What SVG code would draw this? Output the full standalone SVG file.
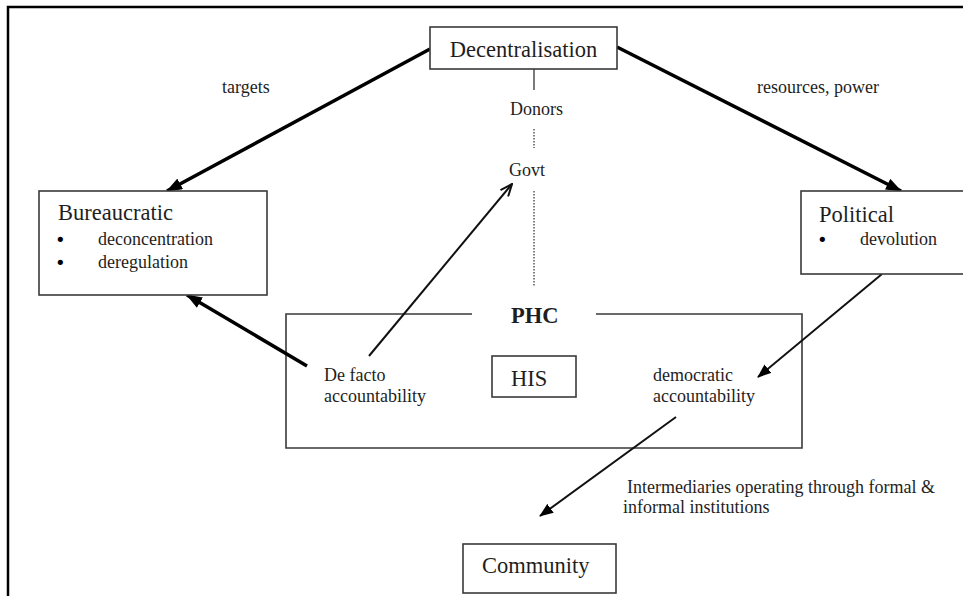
<svg xmlns="http://www.w3.org/2000/svg" width="963" height="596" viewBox="0 0 963 596">
  <style>
    .box { fill: #ffffff; stroke: #3a3a3a; stroke-width: 1.6; }
    .lbl { font-family: "Liberation Serif", "Times New Roman", serif; fill: #1e1e1e; }
    .big { font-size: 22.5px; }
    .sm { font-size: 18px; }
    .bul { font-family: "DejaVu Sans", sans-serif; font-size: 18px; fill: #000; }
    .thick { stroke: #000; stroke-width: 3.5; fill: none; }
    .thin { stroke: #111; stroke-width: 2; fill: none; }
    .dot { stroke: #555; stroke-width: 1.5; stroke-dasharray: 1.5 1.5; fill: none; }
  </style>
  <defs>
    <marker id="headBig" markerUnits="userSpaceOnUse" viewBox="0 0 16 12" markerWidth="16" markerHeight="12" refX="15" refY="6" orient="auto">
      <path d="M0,0 L16,6 L0,12 Z" fill="#000"/>
    </marker>
    <marker id="headSmall" markerUnits="userSpaceOnUse" viewBox="0 0 14 11" markerWidth="14" markerHeight="11" refX="13" refY="5.5" orient="auto">
      <path d="M0,0 L14,5.5 L0,11 Z" fill="#000"/>
    </marker>
    <marker id="headOpen" markerUnits="userSpaceOnUse" viewBox="0 0 14 12" markerWidth="14" markerHeight="12" refX="13" refY="6" orient="auto">
      <path d="M1,1 L13,6 L1,11" fill="none" stroke="#111" stroke-width="2"/>
    </marker>
  </defs>

  <rect width="963" height="596" fill="#ffffff"/>

  <!-- outer frame (left and top edges) -->
  <path d="M8,596 L8,7 L963,7" fill="none" stroke="#000" stroke-width="2.5"/>

  <!-- PHC container with gap for its title -->
  <g id="phc">
    <path class="box" d="M472,314 L286,314 L286,448 L802,448 L802,314 L596,314" fill="none"/>
    <text class="lbl big" x="511" y="323" font-weight="bold">PHC</text>
  </g>

  <g id="connectors">
    <!-- Decentralisation to the two branches -->
    <line class="thick" x1="430" y1="49" x2="167" y2="191" marker-end="url(#headBig)"/>
    <line class="thick" x1="617" y1="47" x2="901" y2="191" marker-end="url(#headBig)"/>
    <!-- De facto accountability to Bureaucratic -->
    <line class="thick" x1="307" y1="366" x2="187" y2="295" marker-end="url(#headBig)"/>
    <!-- De facto accountability to Govt -->
    <line class="thin" x1="369" y1="356" x2="512" y2="184" marker-end="url(#headOpen)"/>
    <!-- Political to democratic accountability -->
    <line class="thin" x1="882" y1="274" x2="758" y2="377" marker-end="url(#headSmall)"/>
    <!-- democratic accountability to Community -->
    <line class="thin" x1="676" y1="417" x2="540" y2="516" marker-end="url(#headSmall)"/>
    <!-- Decentralisation / Donors / Govt / PHC spine -->
    <line x1="534" y1="69" x2="534" y2="90" stroke="#333" stroke-width="1.3"/>
    <line class="dot" x1="534" y1="129" x2="534" y2="148"/>
    <line class="dot" x1="534" y1="191" x2="534" y2="286"/>
  </g>

  <g id="decentralisation">
    <rect class="box" x="430" y="27" width="187" height="42"/>
    <text class="lbl big" x="523.5" y="57" text-anchor="middle">Decentralisation</text>
  </g>

  <g id="donors">
    <text class="lbl sm" x="510" y="115">Donors</text>
  </g>

  <g id="govt">
    <text class="lbl sm" x="509" y="176">Govt</text>
  </g>

  <g id="bureaucratic">
    <rect class="box" x="39" y="191" width="228" height="104"/>
    <text class="lbl big" x="58" y="220">Bureaucratic</text>
    <text class="bul" x="55" y="246">•</text>
    <text class="lbl sm" x="98" y="245">deconcentration</text>
    <text class="bul" x="55" y="269">•</text>
    <text class="lbl sm" x="98" y="268">deregulation</text>
  </g>

  <g id="political">
    <rect class="box" x="801" y="191" width="170" height="83"/>
    <text class="lbl big" x="819" y="222">Political</text>
    <text class="bul" x="817" y="246">•</text>
    <text class="lbl sm" x="860" y="245">devolution</text>
  </g>

  <g id="his">
    <rect class="box" x="492" y="356" width="84" height="41"/>
    <text class="lbl big" x="511" y="386">HIS</text>
  </g>

  <g id="de-facto">
    <text class="lbl sm" x="324" y="381">De facto</text>
    <text class="lbl sm" x="324" y="402">accountability</text>
  </g>

  <g id="democratic">
    <text class="lbl sm" x="653" y="381">democratic</text>
    <text class="lbl sm" x="653" y="402">accountability</text>
  </g>

  <g id="community">
    <rect class="box" x="463" y="544" width="153" height="49"/>
    <text class="lbl big" x="482" y="573">Community</text>
  </g>

  <g id="edge-labels">
    <text class="lbl sm" x="222" y="93">targets</text>
    <text class="lbl sm" x="757" y="93">resources, power</text>
    <text class="lbl sm" x="627" y="493">Intermediaries operating through formal &amp;</text>
    <text class="lbl sm" x="623" y="513">informal institutions</text>
  </g>
</svg>
